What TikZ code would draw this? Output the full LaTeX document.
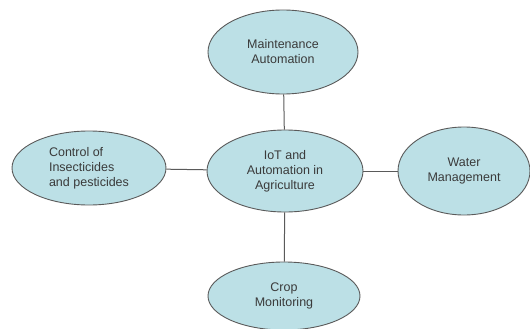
\documentclass[tikz,border=0pt]{standalone}
\usepackage{fontspec}
\setmainfont{Liberation Sans}
\usetikzlibrary{shapes.geometric}

\definecolor{bubblefill}{HTML}{BCE0E6}
\definecolor{bubbleline}{HTML}{5A5A5A}
\definecolor{bubbletext}{HTML}{3A3A3A}

\tikzset{
    bubble/.style={ellipse, draw=bubbleline, fill=bubblefill, line width=0.9pt,
        inner sep=0pt, text=bubbletext, align=center,
        font=\fontsize{12.5}{15}\selectfont},
    link/.style={draw=bubbleline, line width=1pt}
}

\begin{document}
\begin{tikzpicture}[x=1pt, y=-1pt]
        \useasboundingbox (0,0) rectangle (530,329);

        \node[bubble, minimum width=150pt, minimum height=84pt] (A) at (283,52) {Maintenance\\Automation};
        \node[bubble, minimum width=154pt, minimum height=74pt, align=left] (B) at (89,168) {Control of\\Insecticides\\and pesticides};
        \node[bubble, minimum width=156pt, minimum height=82pt] (C) at (285,171) {IoT and\\Automation in\\Agriculture};
        \node[bubble, minimum width=132pt, minimum height=88pt] (D) at (464,171) {Water\\Management};
        \node[bubble, minimum width=152pt, minimum height=68pt] (E) at (284,296) {Crop\\Monitoring};

        \draw[link] (A) -- (C);
        \draw[link] (B) -- (C);
        \draw[link] (C) -- (D);
        \draw[link] (C) -- (E);
    \end{tikzpicture}
\end{document}
